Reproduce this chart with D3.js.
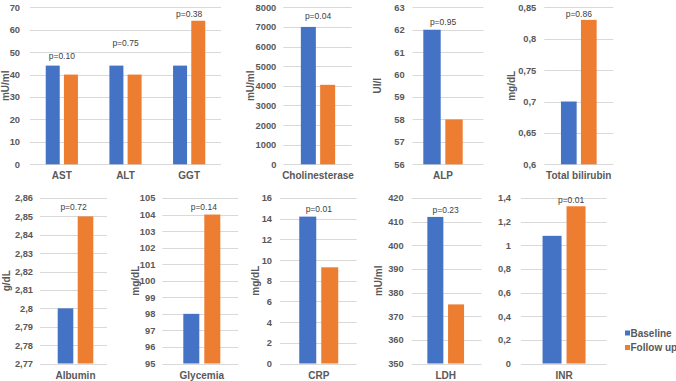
<!DOCTYPE html>
<html><head><meta charset="utf-8">
<script src="https://cdn.jsdelivr.net/npm/d3@7"></script>
<style>
html,body{margin:0;padding:0;background:#fff;}
svg{display:block;font-family:"Liberation Sans",Arial,sans-serif;}
</style></head>
<body>
<svg id="chart" width="676" height="381"></svg>
<script>
// ---------- DATA ----------
const categories = ["AST","ALT","GGT","Cholinesterase","ALP","Total bilirubin","Albumin","Glycemia","CRP","LDH","INR"];
const baselineValues = [44, 44, 44, 7000, 62, 0.70, 2.80, 98, 14.2, 412, 1.08];
const followUpValues = [40, 40, 64, 4050, 58, 0.83, 2.85, 104, 9.3, 375, 1.33];
const pLabels = ["p=0.10","p=0.75","p=0.38","p=0.04","p=0.95","p=0.86","p=0.72","p=0.14","p=0.01","p=0.23","p=0.01"];
const seriesNames = ["Baseline","Follow up"];
const panelCategories = [["AST","ALT","GGT"],["Cholinesterase"],["ALP"],["Total bilirubin"],["Albumin"],["Glycemia"],["CRP"],["LDH"],["INR"]];
const panelUnits = ["mU/ml","mU/ml","UI/l","mg/dL","g/dL","mg/dL","mg/dL","mU/ml",""];
const panelTicks = [
  [0,10,20,30,40,50,60,70],
  [0,1000,2000,3000,4000,5000,6000,7000,8000],
  [56,57,58,59,60,61,62,63],
  [0.6,0.65,0.7,0.75,0.8,0.85],
  [2.77,2.78,2.79,2.80,2.81,2.82,2.83,2.84,2.85,2.86],
  [95,96,97,98,99,100,101,102,103,104,105],
  [0,2,4,6,8,10,12,14,16],
  [350,360,370,380,390,400,410,420],
  [0,0.2,0.4,0.6,0.8,1.0,1.2,1.4]
];

// ---------- LAYOUT ----------
const colors = ["#4472C4","#ED7D31"];
const rows = [{y0:164.3, y1:7.3, labelY:175.5}, {y0:363.5, y1:198, labelY:375}];
const layout = [
  {row:0, gx:[30,221],      dx:0,    bar:14,   gap:4.2, tickGap:10, titleX:5.5,   pLevel:[48.3,54.2,67.1]},
  {row:0, gx:[283.3,351.7], dx:0.5,  bar:15,   gap:4.3, tickGap:7,  titleX:250,   pLevel:[7560]},
  {row:0, gx:[412.7,483.3], dx:-5,   bar:17.4, gap:4.6, tickGap:8,  titleX:377,   pLevel:[62.34]},
  {row:0, gx:[544.3,613.3], dx:0,    bar:15.7, gap:4.3, tickGap:8,  titleX:511.7, pLevel:[0.840]},
  {row:1, gx:[40,107],      dx:2,    bar:15.6, gap:4.4, tickGap:7,  titleX:6.7,   pLevel:[2.855], pdx:-2},
  {row:1, gx:[162.3,238.3], dx:1.5,  bar:16,   gap:5,   tickGap:7,  titleX:135,   pLevel:[104.44], pdx:2},
  {row:1, gx:[280,356.7],   dx:0.4,  bar:17,   gap:5,   tickGap:8,  titleX:255,   pLevel:[14.94]},
  {row:1, gx:[411.7,481.7], dx:-1,   bar:16,   gap:4.7, tickGap:8,  titleX:378,   pLevel:[415.1]},
  {row:1, gx:[521,606.7],   dx:0.2,  bar:19,   gap:5,   tickGap:10, titleX:null,  pLevel:[1.386], pdx:7}
];

const svg = d3.select("#chart");
const fmt = v => d3.format(".2~f")(v).replace(".", ",");

panelCategories.forEach((cats, pi) => {
  const L = layout[pi], R = rows[L.row];
  const ticks = panelTicks[pi];
  const y = d3.scaleLinear().domain([ticks[0], ticks[ticks.length-1]]).range([R.y0, R.y1]);
  const x = d3.scaleBand().domain(cats).range([L.gx[0]+L.dx, L.gx[1]+L.dx]);
  const g = svg.append("g");

  // gridlines
  g.selectAll("line.grid").data(ticks).join("line")
    .attr("x1", L.gx[0]).attr("x2", L.gx[1])
    .attr("y1", d => Math.round(y(d))+0.5).attr("y2", d => Math.round(y(d))+0.5)
    .attr("stroke", "#D9D9D9").attr("stroke-width", 1);

  // y axis labels
  const axis = d3.axisLeft(y).tickValues(ticks).tickFormat(fmt).tickSize(0).tickPadding(L.tickGap);
  const ag = g.append("g").attr("transform", `translate(${L.gx[0]},0)`).call(axis);
  ag.select(".domain").remove();
  ag.selectAll("text").attr("fill", "#595959").style("font-size", "9.3px").style("font-weight", "bold")
    .style("font-family", "'Liberation Sans',Arial,sans-serif");

  // bars
  cats.forEach((c, ci) => {
    const idx = categories.indexOf(c);
    const vals = [baselineValues[idx], followUpValues[idx]];
    const center = x(c) + x.bandwidth()/2;
    const groupW = 2*L.bar + L.gap;
    const xs = d3.scaleBand().domain(seriesNames)
      .range([center - groupW/2, center + groupW/2])
      .paddingInner(L.gap/(L.bar + L.gap)).paddingOuter(0);
    seriesNames.forEach((s, si) => {
      g.append("rect")
        .attr("x", xs(s)).attr("width", xs.bandwidth())
        .attr("y", y(vals[si])).attr("height", y(ticks[0]) - y(vals[si]))
        .attr("fill", colors[si]);
    });
    // p label
    g.append("text")
      .attr("x", center + (L.pdx||0)).attr("y", y(L.pLevel[ci]))
      .attr("dy", "0.35em").attr("text-anchor", "middle")
      .attr("fill", "#404040").style("font-size", "8.5px")
      .text(pLabels[idx]);
    // category label
    g.append("text")
      .attr("x", center).attr("y", R.labelY)
      .attr("dy", "0.35em").attr("text-anchor", "middle")
      .attr("fill", "#595959").style("font-size", "10px").style("font-weight", "bold")
      .text(c);
  });

  // y title
  if (panelUnits[pi]) {
    const cy = (R.y0 + R.y1)/2;
    g.append("text")
      .attr("transform", `translate(${L.titleX},${cy}) rotate(-90)`)
      .attr("dy", "0.35em").attr("text-anchor", "middle")
      .attr("fill", "#595959").style("font-size", "10px").style("font-weight", "bold")
      .text(panelUnits[pi]);
  }
});

// legend
const leg = svg.append("g").attr("transform", "translate(625,333)");
seriesNames.forEach((s, i) => {
  const row = leg.append("g").attr("transform", `translate(0,${i*14.5})`);
  row.append("rect").attr("x", 0).attr("y", -2.5).attr("width", 5).attr("height", 5).attr("fill", colors[i]);
  row.append("text").attr("x", 5.5).attr("y", 0).attr("dy", "0.35em")
    .attr("fill", "#595959").style("font-size", "10px").style("font-weight", "bold").text(s);
});
</script>
</body></html>
